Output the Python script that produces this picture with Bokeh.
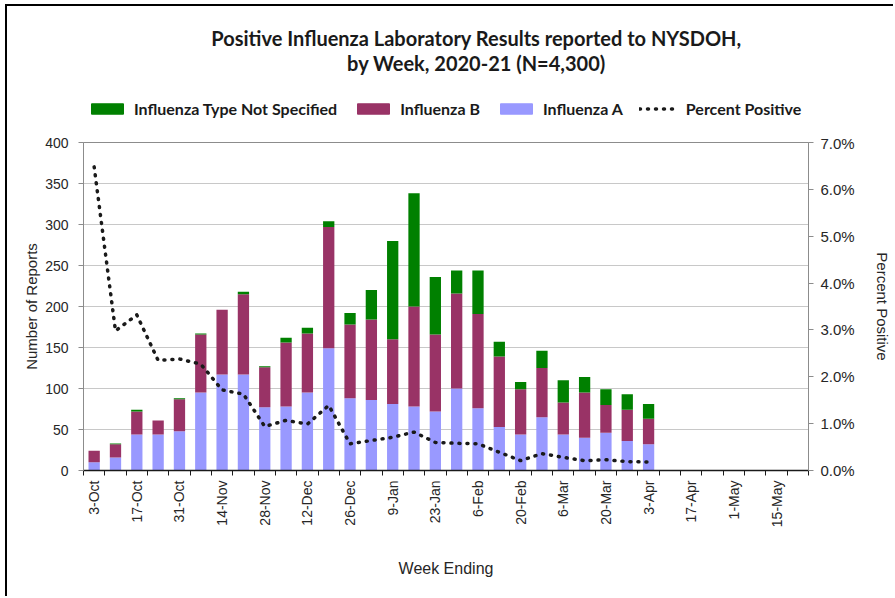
import math
from bokeh.plotting import figure
from bokeh.layouts import column
from bokeh.models import (Range1d, LinearAxis, FixedTicker, Label,
                          NumeralTickFormatter, Legend, LegendItem, ColumnDataSource)
from bokeh.embed import file_html
from bokeh.resources import INLINE

# ---- data ----
weeks = ["3-Oct", "10-Oct", "17-Oct", "24-Oct", "31-Oct", "7-Nov", "14-Nov", "21-Nov",
         "28-Nov", "5-Dec", "12-Dec", "19-Dec", "26-Dec", "2-Jan", "9-Jan", "16-Jan",
         "23-Jan", "30-Jan", "6-Feb", "13-Feb", "20-Feb", "27-Feb", "6-Mar", "13-Mar",
         "20-Mar", "27-Mar", "3-Apr", "10-Apr", "17-Apr", "24-Apr", "1-May", "8-May",
         "15-May", "22-May"]
flu_a = [10, 16, 44, 44, 48, 95, 117, 117, 77, 78, 95, 149, 88, 86, 81, 78, 72, 100, 76,
         53, 44, 65, 44, 40, 46, 36, 32]
flu_b = [14, 16, 28, 17, 39, 71, 79, 98, 49, 78, 72, 148, 90, 98, 79, 122, 94, 116, 115,
         86, 55, 60, 39, 55, 34, 38, 31]
flu_ns = [0, 1, 2, 0, 1, 1, 0, 3, 1, 6, 7, 7, 14, 36, 120, 138, 70, 28, 53, 18, 9, 21,
          27, 19, 19, 19, 18]
pct_pos = [6.48, 2.98, 3.32, 2.35, 2.38, 2.27, 1.72, 1.63, 0.94, 1.07, 0.99, 1.39, 0.57,
           0.64, 0.71, 0.82, 0.60, 0.58, 0.57, 0.39, 0.21, 0.36, 0.28, 0.21, 0.23, 0.19,
           0.18]
left_ticks = [0, 50, 100, 150, 200, 250, 300, 350, 400]
right_ticks = [0.00, 0.01, 0.02, 0.03, 0.04, 0.05, 0.06, 0.07]
series_names = ["Influenza Type Not Specified", "Influenza B", "Influenza A",
                "Percent Positive"]

title_line1 = "Positive Influenza Laboratory Results reported to NYSDOH,"
title_line2 = "by Week, 2020-21 (N=4,300)"

n = len(flu_a)
src = ColumnDataSource(dict(
    x=list(range(n)), a=flu_a, b=flu_b, ns=flu_ns, pct=[v / 100 for v in pct_pos]))

GREEN = "#008000"
MAROON = "#993366"
BLUE = "#9999FF"
TICK_FONT = "Liberation Sans"
TXT = "#262626"
DOT = dict(line_color="#1a1a1a", line_width=3.5, line_dash="1 7", line_cap="round")

W = 886

# ---------- header: title + legend ----------
# (its frame is aligned with the main chart's frame by the column layout)
h = figure(width=W, height=128, output_backend="svg", toolbar_location=None,
           x_range=Range1d(0, 1), y_range=Range1d(0, 1), min_border=0,
           x_axis_location=None, y_axis_location=None)
h.title = None
h.grid.visible = False
h.outline_line_color = None
h.border_fill_color = "white"
h.background_fill_color = "white"
for txt, yy in [(title_line1, 97), (title_line2, 72)]:
    h.add_layout(Label(x=393, y=yy, x_units="screen", y_units="screen", text=txt,
                       text_align="center", text_baseline="middle", text_font="Lato",
                       text_font_size="20px", text_font_style="bold",
                       text_color="#1a1a1a"))
# legend proxies (no visible marks; they only carry the legend styling)
proxy = ColumnDataSource(dict(x=[float("nan")], y=[float("nan")]))
lr_ns = h.vbar(x="x", top="y", width=0.5, source=proxy, color=GREEN)
lr_b = h.vbar(x="x", top="y", width=0.5, source=proxy, color=MAROON)
lr_a = h.vbar(x="x", top="y", width=0.5, source=proxy, color=BLUE)
lr_l = h.line(x="x", y="y", source=proxy, **DOT)
legend = Legend(items=[LegendItem(label=nm, renderers=[r]) for nm, r in
                       zip(series_names, [lr_ns, lr_b, lr_a, lr_l])],
                orientation="horizontal", location=(4, 16), border_line_alpha=0,
                background_fill_alpha=0, glyph_width=40, glyph_height=13,
                label_text_font="Lato", label_text_font_style="bold",
                label_text_font_size="16px", label_text_color="#1a1a1a",
                spacing=16, label_standoff=7, padding=0, margin=0)
h.add_layout(legend, "center")

# ---------- main chart ----------
p = figure(width=W, height=462, output_backend="svg", toolbar_location=None,
           x_range=Range1d(-0.5, len(weeks) - 0.5), y_range=Range1d(0, 400),
           min_border_left=76, min_border_right=84, min_border_top=8,
           min_border_bottom=126, y_axis_location=None, x_axis_location=None)
p.extra_y_ranges = {"pct": Range1d(0, 0.07)}
p.title = None
p.outline_line_color = "#8c8c8c"
p.background_fill_color = "white"
p.border_fill_color = "white"
p.xgrid.visible = False
p.ygrid.ticker = FixedTicker(ticks=left_ticks)
p.ygrid.grid_line_color = "#c8c8c8"
p.ygrid.grid_line_width = 1

p.vbar_stack(["a", "b", "ns"], x="x", width=0.53, source=src,
             color=[BLUE, MAROON, GREEN], line_width=0)
p.line("x", "pct", source=src, y_range_name="pct", **DOT)

xaxis = LinearAxis(
    ticker=FixedTicker(ticks=list(range(0, len(weeks), 2)),
                       minor_ticks=[i - 0.5 for i in range(len(weeks) + 1)]),
    major_label_overrides={i: weeks[i] for i in range(0, len(weeks), 2)},
    major_label_orientation=math.pi / 2,
    major_tick_in=0, major_tick_out=0,
    minor_tick_in=0, minor_tick_out=5, minor_tick_line_color="#1a1a1a",
    axis_line_color="#1a1a1a", axis_line_width=1.5,
    major_label_text_font=TICK_FONT, major_label_text_font_size="14px",
    major_label_text_color=TXT, major_label_standoff=5,
    axis_label="Week Ending", axis_label_text_font=TICK_FONT,
    axis_label_text_font_size="16px", axis_label_text_font_style="normal",
    axis_label_text_color=TXT, axis_label_standoff=30)
p.add_layout(xaxis, "below")

yaxis = LinearAxis(
    ticker=FixedTicker(ticks=left_ticks),
    major_tick_in=0, major_tick_out=5, minor_tick_out=0, minor_tick_in=0,
    major_tick_line_color="#8c8c8c", axis_line_color="#8c8c8c",
    major_label_text_font=TICK_FONT, major_label_text_font_size="14px",
    major_label_text_color=TXT, major_label_standoff=10,
    axis_label="Number of Reports", axis_label_text_font=TICK_FONT,
    axis_label_text_font_size="15px", axis_label_text_font_style="normal",
    axis_label_text_color=TXT, axis_label_standoff=2)
p.add_layout(yaxis, "left")

raxis = LinearAxis(
    y_range_name="pct", ticker=FixedTicker(ticks=right_ticks),
    formatter=NumeralTickFormatter(format="0.0%"),
    major_tick_in=0, major_tick_out=5, minor_tick_out=0, minor_tick_in=0,
    major_tick_line_color="#8c8c8c", axis_line_color="#8c8c8c",
    major_label_text_font=TICK_FONT, major_label_text_font_size="15px",
    major_label_text_color=TXT, major_label_standoff=7,
    axis_label="Percent Positive", axis_label_text_font=TICK_FONT,
    axis_label_text_font_size="15px", axis_label_text_font_style="normal",
    axis_label_text_color=TXT, axis_label_standoff=16)
p.add_layout(raxis, "right")

layout = column(h, p, spacing=0)
layout.styles = {"border-left": "2px solid black", "border-top": "2px solid black",
                 "margin-left": "5px", "margin-top": "4px"}

open("out.html", "w").write(file_html(layout, INLINE))
